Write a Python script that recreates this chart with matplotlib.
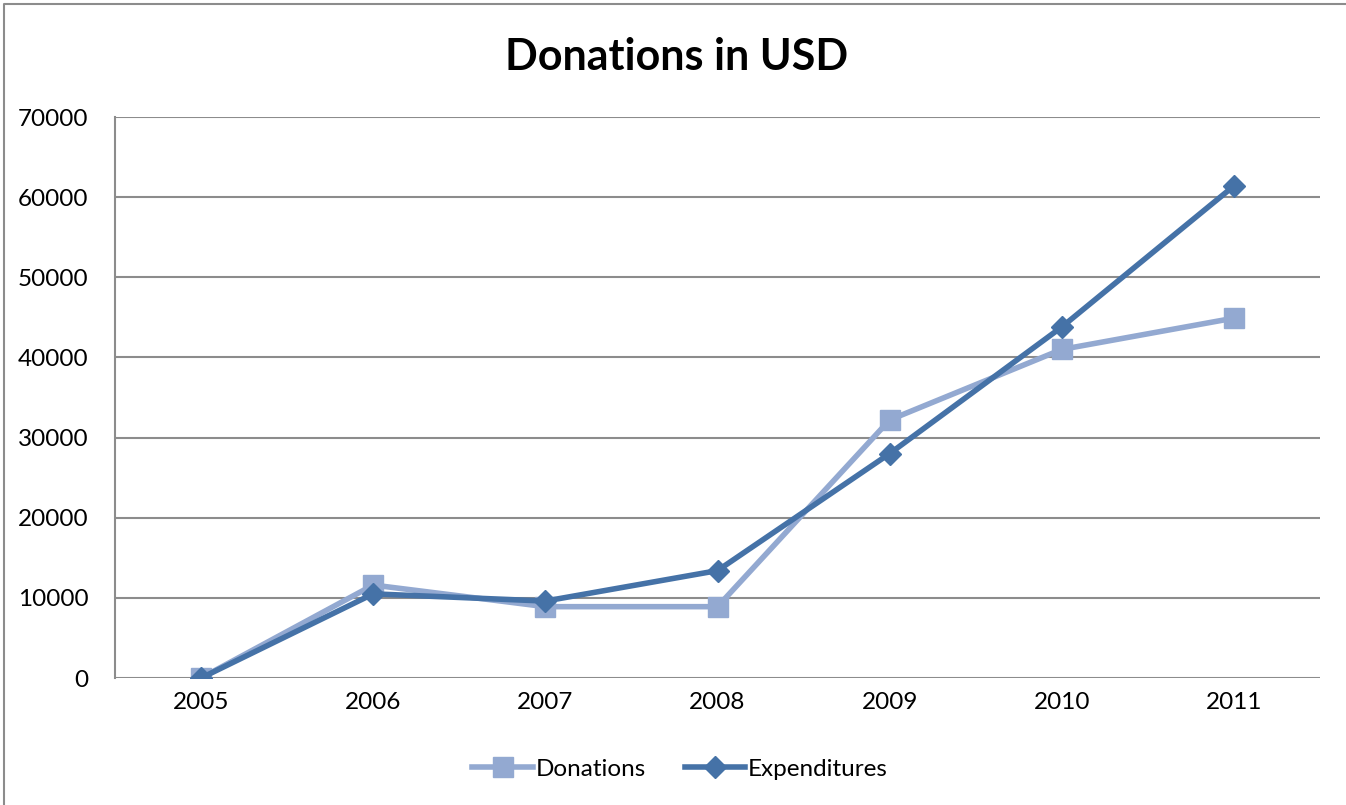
import matplotlib
matplotlib.use('Agg')
import matplotlib.pyplot as plt
from matplotlib.lines import Line2D

# Data
years = ['2005', '2006', '2007', '2008', '2009', '2010', '2011']
donations = [0, 11600, 8900, 8900, 32200, 41000, 44900]
expenditures = [0, 10500, 9600, 13400, 28000, 43800, 61400]
y_ticks = [0, 10000, 20000, 30000, 40000, 50000, 60000, 70000]

plt.rcParams['font.family'] = ['Lato', 'DejaVu Sans']

fig = plt.figure(figsize=(13.46, 8.05), dpi=100)
ax = fig.add_axes([115 / 1346, 1 - 678 / 805, 1205 / 1346, 561 / 805])

# Outer chart frame (only top and left edges show in the reference)
fx, fy = 4 / 1346, 1 - 4 / 805
fig.lines.append(Line2D([fx, fx, 1], [0, fy, fy], transform=fig.transFigure,
                        color='#8c8c8c', linewidth=1.5))

x = list(range(len(years)))
ax.plot(x, donations, color='#93A9D1', linewidth=4, marker='s',
        markersize=14, label='Donations', zorder=3)
ax.plot(x, expenditures, color='#4572A7', linewidth=4, marker='D',
        markersize=11.5, label='Expenditures', zorder=4)

ax.set_xlim(-0.5, len(years) - 0.5)
ax.set_ylim(0, 70000)
ax.set_yticks(y_ticks)
ax.set_yticklabels([str(v) for v in y_ticks], fontsize=17.5)
ax.set_xticks(x)
ax.set_xticklabels(years, fontsize=17.5)
ax.tick_params(axis='x', length=0, pad=10)
ax.tick_params(axis='y', length=0, pad=19)
ax.yaxis.grid(True, color='#8c8c8c', linewidth=1.5)
ax.set_axisbelow(True)
for side in ['top', 'right', 'bottom']:
    ax.spines[side].set_visible(False)
ax.spines['left'].set_color('#8c8c8c')
ax.spines['left'].set_linewidth(1.5)

fig.text(677 / 1346, 1 - 57 / 805, 'Donations in USD', fontsize=31,
         fontweight='bold', ha='center', va='center')

fig.legend(loc='center', bbox_to_anchor=(680 / 1346, 1 - 769 / 805), ncol=2,
           frameon=False, fontsize=17.5, handlelength=2.5, handletextpad=0.1,
           columnspacing=1.6)

fig.savefig('out.png', dpi=100)
